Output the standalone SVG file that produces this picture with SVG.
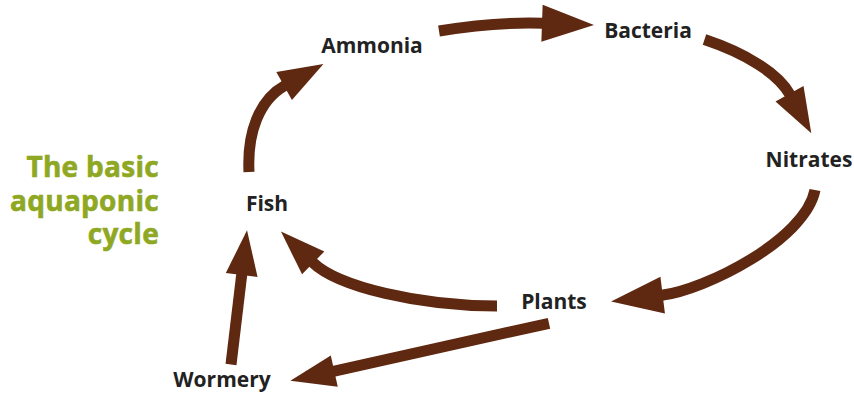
<svg xmlns="http://www.w3.org/2000/svg" width="854" height="398" viewBox="0 0 854 398">
  <style>
    .lbl { font-family: "Open Sans", "Liberation Sans", sans-serif; font-weight: 700; font-size: 21px; fill: #222222; text-anchor: middle; }
    .title { font-family: "Open Sans", "Liberation Sans", sans-serif; font-weight: 700; font-size: 28px; fill: #8fa824; stroke: #8fa824; stroke-width: 0.6; text-anchor: end; letter-spacing: 0.3px; }
    .arr { fill: none; stroke: #5f2811; stroke-width: 11; stroke-linecap: butt; }
    .arr-s { marker-end: url(#head); }
    .arr-l { marker-end: url(#headL); }
  </style>
  <defs>
    <marker id="head" markerUnits="userSpaceOnUse" orient="auto" refX="0" refY="0" markerWidth="60" markerHeight="60" overflow="visible">
      <path d="M-1,-16 L44,0 L-1,16 Z" fill="#5f2811"/>
    </marker>
    <marker id="headL" markerUnits="userSpaceOnUse" orient="auto" refX="0" refY="0" markerWidth="70" markerHeight="70" overflow="visible">
      <path d="M-1,-18.5 L51,0 L-1,18.5 Z" fill="#5f2811"/>
    </marker>
  </defs>

  <g id="title">
    <text class="title" x="159" y="177">The basic</text>
    <text class="title" x="159" y="211">aquaponic</text>
    <text class="title" x="159" y="244">cycle</text>
  </g>

  <g id="connectors">
    <path id="fish-ammonia" class="arr arr-s" d="M249,172 C 247,133 259,100 285,85.5"/>
    <path id="ammonia-bacteria" class="arr arr-l" d="M439,31 C 470,26 505,22 543,23.3"/>
    <path id="bacteria-nitrates" class="arr arr-s" d="M704.5,39.5 C 745,53 778,73 790,94.7"/>
    <path id="nitrates-plants" class="arr arr-l" d="M815,190 C 805,240 705,290 661.7,295.3"/>
    <path id="plants-fish" class="arr arr-s" d="M497,306 C 420,306 338,287 312.5,262.2"/>
    <path id="wormery-fish" class="arr arr-s" d="M231,364.5 L241.8,274"/>
    <path id="plants-wormery" class="arr arr-s" d="M549,323.3 L333.3,371.3"/>
  </g>

  <g id="node-ammonia"><text class="lbl" x="372" y="52.5">Ammonia</text></g>
  <g id="node-bacteria"><text class="lbl" x="648" y="38">Bacteria</text></g>
  <g id="node-nitrates"><text class="lbl" x="809" y="166.5">Nitrates</text></g>
  <g id="node-fish"><text class="lbl" x="267" y="210.5">Fish</text></g>
  <g id="node-plants"><text class="lbl" x="554" y="309">Plants</text></g>
  <g id="node-wormery"><text class="lbl" x="222" y="387">Wormery</text></g>
</svg>
